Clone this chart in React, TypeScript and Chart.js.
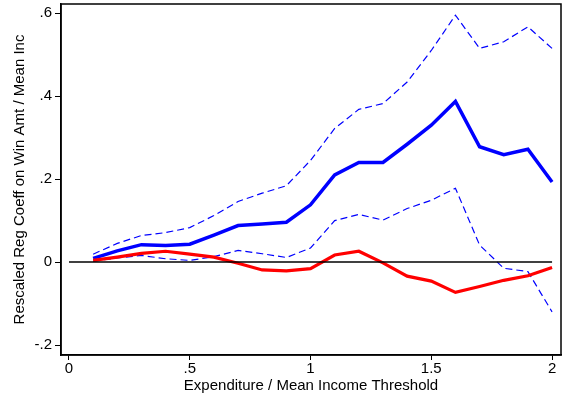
import { useEffect, useRef } from "react";
import { Chart, registerables } from "chart.js";

Chart.register(...registerables);

const thresholds = [0.1, 0.2, 0.3, 0.4, 0.5, 0.6, 0.7, 0.8, 0.9, 1.0, 1.1, 1.2, 1.3, 1.4, 1.5, 1.6, 1.7, 1.8, 1.9, 2.0];
const coefBlue = [0.009, 0.027, 0.042, 0.040, 0.043, 0.065, 0.088, 0.092, 0.096, 0.138, 0.21, 0.24, 0.24, 0.284, 0.33, 0.387, 0.278, 0.259, 0.272, 0.193];
const upperCI = [0.019, 0.045, 0.064, 0.071, 0.083, 0.112, 0.146, 0.166, 0.184, 0.245, 0.322, 0.368, 0.382, 0.434, 0.51, 0.595, 0.515, 0.531, 0.567, 0.515];
const lowerCI = [0.002, 0.01, 0.016, 0.008, 0.004, 0.013, 0.028, 0.02, 0.011, 0.034, 0.1, 0.115, 0.101, 0.129, 0.149, 0.178, 0.041, -0.015, -0.023, -0.12];
const coefRed = [0.004, 0.012, 0.021, 0.026, 0.019, 0.012, -0.003, -0.019, -0.021, -0.016, 0.017, 0.026, -0.002, -0.034, -0.046, -0.073, -0.059, -0.044, -0.033, -0.013];
const zeroLineX = [0, 2];
const xTickValues = [0, 0.5, 1, 1.5, 2];
const xTickLabels = ["0", ".5", "1", "1.5", "2"];
const yTickValues = [-0.2, 0, 0.2, 0.4, 0.6];
const yTickLabels = ["-.2", "0", ".2", ".4", ".6"];

const FONT = "'Liberation Sans', Arial, sans-serif";

export default function App() {
  const ref = useRef<HTMLCanvasElement | null>(null);
  useEffect(() => {
    if (!ref.current) return;
    const pts = (ys: number[]) => thresholds.map((x, i) => ({ x, y: ys[i] }));
    const frame = {
      id: "frame",
      afterDatasetsDraw(chart: any) {
        const { ctx, chartArea } = chart;
        ctx.save();
        ctx.strokeStyle = "#000";
        ctx.lineWidth = 1.5;
        ctx.strokeRect(chartArea.left, chartArea.top, chartArea.right - chartArea.left, chartArea.bottom - chartArea.top);
        ctx.restore();
      },
    };
    const chart = new Chart(ref.current, {
      type: "line",
      data: {
        datasets: [
          { data: zeroLineX.map((x) => ({ x, y: 0 })), borderColor: "#000", borderWidth: 1.5, pointRadius: 0 },
          { data: pts(coefRed), borderColor: "#ff0000", borderWidth: 3.2, pointRadius: 0 },
          { data: pts(coefBlue), borderColor: "#0000ff", borderWidth: 3.5, pointRadius: 0 },
          { data: pts(upperCI), borderColor: "#0000ff", borderWidth: 1.2, borderDash: [7, 4], pointRadius: 0 },
          { data: pts(lowerCI), borderColor: "#0000ff", borderWidth: 1.2, borderDash: [7, 4], pointRadius: 0 },
        ],
      },
      options: {
        responsive: false,
        animation: false,
        layout: { padding: { top: 4, right: 2, left: 0, bottom: 0 } },
        plugins: { legend: { display: false }, tooltip: { enabled: false } },
        elements: { line: { tension: 0, borderCapStyle: "butt", borderJoinStyle: "miter" } },
        scales: {
          x: {
            type: "linear",
            min: -0.033,
            max: 2.037,
            afterFit: (s: any) => { s.height = 43; s.paddingLeft = 0; s.paddingRight = 0; },
            afterBuildTicks: (s: any) => { s.ticks = xTickValues.map((v) => ({ value: v })); },
            ticks: {
              color: "#000",
              font: { family: FONT, size: 15 },
              padding: 0,
              maxRotation: 0,
              autoSkip: false,
              callback: (v: any) => xTickLabels[xTickValues.indexOf(Number(v))] ?? "",
            },
            grid: { display: true, drawOnChartArea: false, drawTicks: true, tickLength: 5, color: "#000", lineWidth: 1 },
            border: { display: true, color: "#000", width: 1.5 },
            title: {
              display: true,
              text: "Expenditure / Mean Income Threshold",
              color: "#000",
              font: { family: FONT, size: 15 },
              padding: { top: 0, bottom: 3 },
            },
          },
          y: {
            type: "linear",
            min: -0.224,
            max: 0.622,
            afterFit: (s: any) => { s.width = 61; s.paddingTop = 0; s.paddingBottom = 0; },
            afterBuildTicks: (s: any) => { s.ticks = yTickValues.map((v) => ({ value: v })); },
            ticks: {
              color: "#000",
              font: { family: FONT, size: 15 },
              padding: 3,
              autoSkip: false,
              callback: (v: any) => {
                const i = yTickValues.findIndex((t) => Math.abs(t - Number(v)) < 1e-9);
                return i >= 0 ? yTickLabels[i] : "";
              },
            },
            grid: { display: true, drawOnChartArea: false, drawTicks: true, tickLength: 6, color: "#000", lineWidth: 1 },
            border: { display: true, color: "#000", width: 1.5 },
            title: {
              display: true,
              text: "Rescaled Reg Coeff on Win Amt / Mean Inc",
              color: "#000",
              font: { family: FONT, size: 15 },
              padding: { top: 11, bottom: 0 },
            },
          },
        },
      },
      plugins: [frame],
    } as any);
    return () => chart.destroy();
  }, []);
  return (
    <div style={{ position: "fixed", left: 0, top: 0, width: 563, height: 398, background: "#fff" }}>
      <canvas ref={ref} width={563} height={398} style={{ display: "block" }} />
    </div>
  );
}
